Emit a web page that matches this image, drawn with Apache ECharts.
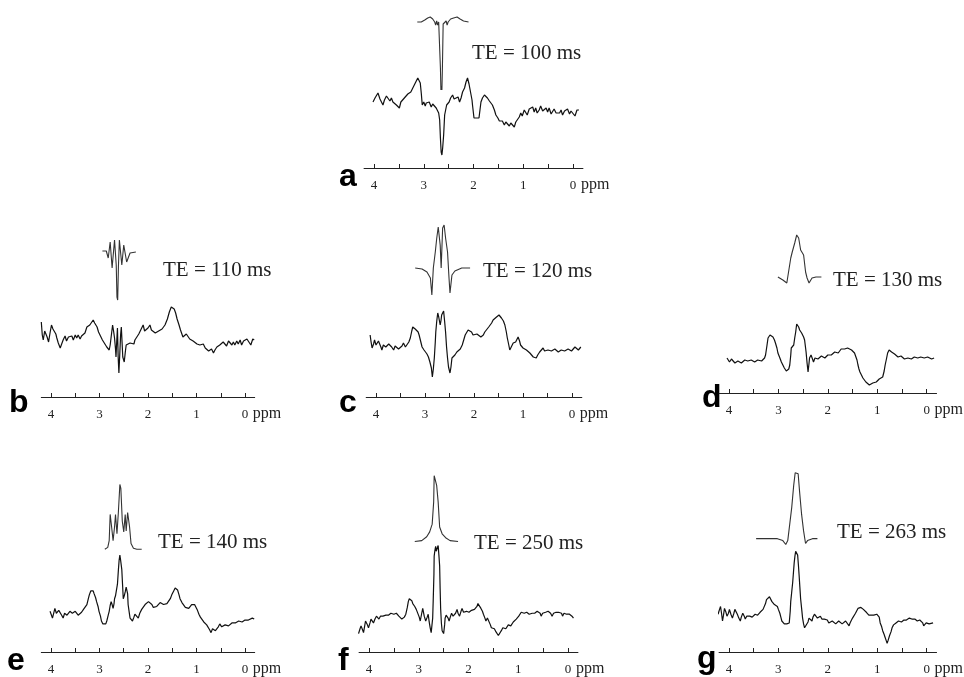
<!DOCTYPE html>
<html><head><meta charset="utf-8">
<script src="https://cdn.jsdelivr.net/npm/echarts@6/dist/echarts.min.js"></script>
<style>html,body{margin:0;padding:0;background:#fff}#c{width:964px;height:677px}</style>
</head><body><div id="c"></div>
<script>
// ---- data ----
const ppmTicks = [0, 0.5, 1, 1.5, 2, 2.5, 3, 3.5, 4];
const ppmLabels = [0, 1, 2, 3, 4];
const panelLetters = ['a', 'b', 'c', 'd', 'e', 'f', 'g'];
const teLabels = ['TE = 100 ms', 'TE = 110 ms', 'TE = 120 ms', 'TE = 130 ms', 'TE = 140 ms', 'TE = 250 ms', 'TE = 263 ms'];

const measuredA = [[4.02,66],[3.98,70],[3.95,68],[3.92,75],[3.88,69],[3.85,66],[3.82,63],[3.79,68],[3.75,72],[3.72,73],[3.68,67],[3.65,70],[3.62,66],[3.58,68],[3.55,63],[3.52,65],[3.49,60],[3.46,66],[3.42,64],[3.39,70],[3.35,68],[3.32,74],[3.29,73],[3.26,76],[3.23,79],[3.19,83],[3.16,86],[3.12,90],[3.09,88],[3.07,85],[3.05,75],[3.03,63],[3.0,66],[2.97,62],[2.95,65],[2.92,63],[2.89,66],[2.85,61],[2.82,64],[2.78,65],[2.75,60],[2.72,58],[2.7,55],[2.68,48],[2.665,30],[2.65,16],[2.635,13],[2.62,20],[2.6,33],[2.58,53],[2.56,58],[2.54,63],[2.51,61],[2.49,66],[2.46,70],[2.42,73],[2.39,69],[2.35,68],[2.31,71],[2.28,66],[2.25,70],[2.22,76],[2.18,80],[2.15,86],[2.12,90],[2.09,84],[2.06,83],[2.03,68],[2.02,63],[1.99,50],[1.95,50],[1.89,50],[1.87,58],[1.85,66],[1.82,70],[1.78,73],[1.75,71],[1.72,70],[1.68,67],[1.65,66],[1.62,63],[1.58,58],[1.55,53],[1.51,50],[1.48,47],[1.45,45],[1.42,47],[1.38,43],[1.35,46],[1.32,45],[1.28,42],[1.25,45],[1.22,43],[1.18,41],[1.15,46],[1.12,48],[1.08,51],[1.05,55],[1.02,52],[0.98,58],[0.95,56],[0.92,53],[0.88,59],[0.85,57],[0.81,61],[0.78,56],[0.75,60],[0.72,55],[0.68,58],[0.65,62],[0.61,57],[0.58,59],[0.54,60],[0.51,56],[0.48,60],[0.44,54],[0.41,56],[0.38,59],[0.34,55],[0.31,57],[0.27,55],[0.24,58],[0.21,53],[0.17,57],[0.14,56],[0.11,59],[0.07,54],[0.04,57],[0.0,55],[-0.04,52],[-0.08,58],[-0.12,58]];
const simulatedA = [[3.13,146],[3.05,146],[2.98,148],[2.92,150],[2.87,151],[2.82,149],[2.78,146],[2.76,143],[2.74,147],[2.72,143],[2.70,146],[2.68,144],[2.665,100],[2.655,78],[2.645,82],[2.635,78],[2.625,100],[2.61,144],[2.59,146],[2.57,143],[2.55,147],[2.53,143],[2.51,146],[2.46,149],[2.40,150],[2.33,151],[2.27,149],[2.2,147],[2.1,146]];

const measuredB = [[4.2,75],[4.18,62],[4.16,57],[4.13,66],[4.11,65],[4.08,60],[4.05,55],[4.02,64],[3.99,72],[3.96,68],[3.93,70],[3.9,63],[3.88,59],[3.85,54],[3.81,49],[3.78,53],[3.75,57],[3.71,61],[3.68,56],[3.64,60],[3.61,58],[3.57,61],[3.54,57],[3.5,62],[3.47,59],[3.44,62],[3.4,58],[3.37,61],[3.33,59],[3.3,64],[3.26,70],[3.23,68],[3.2,72],[3.16,74],[3.13,77],[3.1,74],[3.08,75],[3.05,70],[3.02,65],[2.98,61],[2.94,57],[2.9,55],[2.85,50],[2.8,47],[2.78,52],[2.76,60],[2.73,72],[2.71,66],[2.69,59],[2.67,48],[2.66,40],[2.645,55],[2.63,69],[2.615,40],[2.6,24],[2.58,45],[2.565,62],[2.55,70],[2.535,55],[2.52,40],[2.49,35],[2.47,44],[2.45,52],[2.41,50],[2.37,54],[2.33,56],[2.29,53],[2.27,57],[2.23,60],[2.19,63],[2.16,65],[2.13,69],[2.1,72],[2.07,66],[2.03,65],[2.0,69],[1.96,72],[1.93,67],[1.89,65],[1.85,64],[1.82,62],[1.78,66],[1.75,65],[1.71,68],[1.68,70],[1.65,72],[1.6,78],[1.56,85],[1.52,90],[1.49,92],[1.46,88],[1.43,84],[1.4,78],[1.36,72],[1.33,67],[1.31,65],[1.28,60],[1.24,59],[1.21,63],[1.17,64],[1.14,58],[1.1,60],[1.07,56],[1.03,57],[0.99,53],[0.96,55],[0.93,52],[0.89,50],[0.86,53],[0.82,49],[0.79,51],[0.75,46],[0.72,45],[0.69,48],[0.65,44],[0.62,47],[0.58,50],[0.55,48],[0.52,52],[0.48,50],[0.45,55],[0.41,54],[0.38,51],[0.34,56],[0.31,55],[0.27,52],[0.24,55],[0.21,52],[0.17,56],[0.14,53],[0.1,57],[0.07,52],[0.03,56],[0.0,54],[-0.04,58],[-0.08,55],[-0.12,52],[-0.16,58],[-0.19,57]];
const simulatedB = [[2.94,146],[2.86,146],[2.82,139],[2.78,155],[2.74,129],[2.69,157],[2.655,132],[2.64,100],[2.625,97],[2.61,130],[2.59,157],[2.54,132],[2.5,152],[2.44,135],[2.37,144],[2.25,145]];

const measuredC = [[4.12,62],[4.1,55],[4.08,49],[4.05,53],[4.03,57],[4.0,52],[3.98,50],[3.95,56],[3.93,55],[3.9,50],[3.88,47],[3.85,52],[3.82,54],[3.8,50],[3.78,49],[3.74,53],[3.71,54],[3.68,50],[3.64,47],[3.61,51],[3.57,52],[3.54,48],[3.5,47],[3.47,51],[3.44,54],[3.4,50],[3.37,52],[3.33,55],[3.3,59],[3.27,66],[3.25,70],[3.23,72],[3.2,68],[3.17,69],[3.14,65],[3.12,62],[3.09,56],[3.06,50],[3.02,47],[2.99,45],[2.96,43],[2.93,40],[2.9,35],[2.87,29],[2.85,20],[2.83,28],[2.81,39],[2.79,55],[2.78,65],[2.76,76],[2.74,84],[2.72,80],[2.69,72],[2.675,76],[2.66,82],[2.64,84],[2.62,86],[2.6,76],[2.58,65],[2.56,50],[2.54,39],[2.52,30],[2.49,24],[2.47,30],[2.45,39],[2.42,40],[2.39,42],[2.35,45],[2.31,45],[2.28,48],[2.24,52],[2.21,57],[2.18,62],[2.15,64],[2.12,67],[2.09,68],[2.05,65],[2.02,62],[1.98,60],[1.94,63],[1.9,64],[1.86,60],[1.81,62],[1.78,65],[1.74,67],[1.7,70],[1.67,72],[1.64,74],[1.61,77],[1.57,79],[1.54,80],[1.49,82],[1.46,81],[1.44,79],[1.4,76],[1.37,72],[1.34,65],[1.32,59],[1.29,52],[1.27,47],[1.24,50],[1.2,54],[1.17,56],[1.15,55],[1.12,57],[1.1,60],[1.07,56],[1.05,52],[1.02,50],[1.0,49],[0.96,48],[0.93,47],[0.89,45],[0.86,44],[0.82,42],[0.79,40],[0.76,41],[0.73,39],[0.7,42],[0.66,45],[0.62,47],[0.59,49],[0.56,46],[0.52,44],[0.49,47],[0.45,49],[0.42,46],[0.39,45],[0.35,48],[0.32,47],[0.28,45],[0.25,44],[0.22,47],[0.18,49],[0.15,46],[0.12,45],[0.08,48],[0.05,48],[0.01,46],[-0.02,47],[-0.06,50],[-0.09,49],[-0.13,47],[-0.18,50]];
const simulatedC = [[3.2,129],[3.06,128],[2.96,125],[2.89,119],[2.86,102],[2.83,129],[2.79,145],[2.76,159],[2.73,170],[2.69,152],[2.67,129],[2.64,169],[2.61,172],[2.58,159],[2.54,145],[2.51,119],[2.49,104],[2.45,122],[2.39,126],[2.25,129],[2.08,129]];

const measuredD = [[4.04,35],[4.01,33],[3.99,31],[3.95,34],[3.92,33],[3.88,30],[3.85,29],[3.82,32],[3.78,32],[3.75,30],[3.72,31],[3.68,33],[3.65,35],[3.62,32],[3.58,31],[3.55,33],[3.52,34],[3.48,31],[3.45,31],[3.42,33],[3.38,35],[3.34,32],[3.31,33],[3.28,35],[3.26,38],[3.23,48],[3.21,55],[3.19,57],[3.17,58],[3.14,57],[3.11,56],[3.08,53],[3.06,50],[3.03,45],[3.01,40],[2.97,35],[2.94,31],[2.91,28],[2.88,25],[2.84,22],[2.81,20],[2.79,24],[2.77,28],[2.75,38],[2.74,45],[2.71,47],[2.69,48],[2.67,55],[2.65,61],[2.63,69],[2.61,67],[2.59,66],[2.57,63],[2.55,61],[2.53,60],[2.51,58],[2.49,56],[2.47,53],[2.45,45],[2.44,41],[2.42,30],[2.4,21],[2.38,30],[2.37,35],[2.34,38],[2.31,34],[2.29,31],[2.26,35],[2.24,36],[2.2,34],[2.17,35],[2.13,37],[2.1,38],[2.06,35],[2.03,36],[2.0,38],[1.97,40],[1.93,38],[1.9,39],[1.86,41],[1.83,41],[1.79,40],[1.76,42],[1.73,44],[1.7,45],[1.66,44],[1.63,43],[1.6,45],[1.56,45],[1.52,43],[1.49,41],[1.46,40],[1.44,38],[1.41,33],[1.39,28],[1.37,24],[1.35,21],[1.32,18],[1.29,15],[1.26,13],[1.23,11],[1.2,10],[1.16,8],[1.13,9],[1.09,10],[1.06,12],[1.02,11],[0.99,13],[0.96,14],[0.92,15],[0.89,16],[0.86,22],[0.84,28],[0.81,35],[0.79,40],[0.76,43],[0.74,44],[0.71,41],[0.69,40],[0.65,39],[0.62,38],[0.58,36],[0.55,35],[0.52,37],[0.48,37],[0.45,34],[0.42,33],[0.38,35],[0.35,36],[0.31,34],[0.28,35],[0.25,36],[0.22,37],[0.18,35],[0.15,33],[0.12,36],[0.08,38],[0.05,35],[0.01,34],[-0.02,36],[-0.05,36],[-0.1,34],[-0.15,35]];
const simulatedD = [[3.01,116],[2.91,113],[2.83,110],[2.79,109],[2.75,135],[2.72,141],[2.67,150],[2.63,158],[2.59,155],[2.55,143],[2.49,138],[2.45,121],[2.42,115],[2.38,110],[2.32,115],[2.24,116],[2.13,116]];

const measuredE = [[4.02,42],[3.99,38],[3.97,35],[3.94,41],[3.92,45],[3.89,40],[3.86,39],[3.84,43],[3.81,44],[3.78,38],[3.75,35],[3.72,40],[3.7,42],[3.67,38],[3.64,37],[3.61,42],[3.59,44],[3.56,40],[3.53,39],[3.5,42],[3.47,42],[3.44,38],[3.4,37],[3.37,41],[3.33,44],[3.3,46],[3.26,49],[3.23,55],[3.21,59],[3.18,63],[3.16,65],[3.13,63],[3.11,60],[3.08,56],[3.06,52],[3.03,47],[3.01,42],[2.98,37],[2.96,32],[2.93,29],[2.9,27],[2.87,29],[2.85,32],[2.82,38],[2.8,42],[2.78,48],[2.76,52],[2.74,49],[2.72,45],[2.7,50],[2.69,55],[2.67,58],[2.65,59],[2.63,70],[2.61,85],[2.595,95],[2.58,100],[2.565,95],[2.54,85],[2.525,70],[2.51,55],[2.49,58],[2.47,62],[2.45,67],[2.44,69],[2.42,60],[2.41,49],[2.39,42],[2.37,35],[2.34,33],[2.32,32],[2.29,36],[2.27,39],[2.24,37],[2.2,35],[2.17,40],[2.13,44],[2.1,46],[2.06,49],[2.03,50],[1.99,52],[1.96,50],[1.92,49],[1.89,46],[1.86,44],[1.82,47],[1.79,49],[1.75,51],[1.72,52],[1.68,49],[1.65,47],[1.61,50],[1.58,52],[1.54,55],[1.51,59],[1.47,63],[1.44,66],[1.41,65],[1.39,64],[1.36,59],[1.34,55],[1.3,51],[1.27,49],[1.23,46],[1.2,44],[1.16,45],[1.13,47],[1.1,49],[1.07,50],[1.04,49],[1.01,47],[0.98,43],[0.95,39],[0.92,36],[0.89,34],[0.85,31],[0.82,29],[0.79,28],[0.76,27],[0.73,23],[0.7,20],[0.67,24],[0.65,25],[0.61,22],[0.58,22],[0.55,26],[0.52,29],[0.48,26],[0.45,25],[0.41,28],[0.38,30],[0.34,27],[0.31,27],[0.27,30],[0.24,32],[0.2,30],[0.17,29],[0.13,32],[0.1,34],[0.06,31],[0.03,30],[0.0,33],[-0.03,35],[-0.07,33],[-0.1,32],[-0.15,35],[-0.19,34]];
const simulatedE = [[2.89,106],[2.83,108],[2.8,115],[2.78,142],[2.75,129],[2.72,115],[2.69,129],[2.67,142],[2.64,122],[2.61,145],[2.58,173],[2.56,169],[2.53,135],[2.5,124],[2.47,142],[2.45,125],[2.42,144],[2.38,129],[2.35,112],[2.3,107],[2.23,106],[2.13,106]];

const measuredF = [[4.21,19],[4.18,24],[4.16,27],[4.13,23],[4.11,20],[4.09,26],[4.07,32],[4.04,29],[4.01,25],[3.98,30],[3.96,34],[3.93,32],[3.91,30],[3.88,34],[3.85,37],[3.82,35],[3.8,34],[3.77,37],[3.75,39],[3.72,37],[3.69,35],[3.66,38],[3.64,40],[3.61,38],[3.59,37],[3.56,40],[3.53,42],[3.5,39],[3.48,37],[3.45,40],[3.42,39],[3.4,37],[3.37,35],[3.34,34],[3.32,32],[3.29,36],[3.26,39],[3.23,46],[3.21,52],[3.19,55],[3.17,57],[3.14,53],[3.12,50],[3.1,48],[3.08,47],[3.05,44],[3.02,42],[2.99,36],[2.97,32],[2.94,40],[2.92,45],[2.89,37],[2.86,32],[2.83,36],[2.81,39],[2.79,31],[2.77,25],[2.75,20],[2.74,19],[2.72,35],[2.71,52],[2.695,80],[2.69,99],[2.675,105],[2.66,109],[2.65,104],[2.64,102],[2.625,106],[2.61,110],[2.595,100],[2.58,89],[2.57,65],[2.56,45],[2.545,30],[2.53,22],[2.51,20],[2.5,19],[2.48,28],[2.47,35],[2.45,38],[2.43,39],[2.41,35],[2.39,32],[2.36,37],[2.34,40],[2.31,37],[2.29,35],[2.26,40],[2.23,44],[2.21,40],[2.18,37],[2.15,42],[2.13,45],[2.1,41],[2.07,39],[2.04,42],[2.02,44],[1.99,41],[1.97,39],[1.94,43],[1.91,45],[1.88,44],[1.86,42],[1.83,47],[1.81,50],[1.78,48],[1.75,45],[1.72,42],[1.7,39],[1.67,35],[1.65,32],[1.62,35],[1.59,34],[1.56,28],[1.54,25],[1.51,26],[1.48,24],[1.45,21],[1.43,19],[1.4,17],[1.38,15],[1.36,19],[1.34,22],[1.31,25],[1.28,27],[1.25,24],[1.23,25],[1.2,28],[1.18,30],[1.15,27],[1.12,29],[1.1,31],[1.07,32],[1.04,34],[1.02,35],[0.99,37],[0.96,39],[0.94,41],[0.91,42],[0.88,40],[0.86,39],[0.83,41],[0.8,42],[0.78,39],[0.75,37],[0.72,40],[0.7,42],[0.67,40],[0.64,39],[0.62,42],[0.59,44],[0.56,40],[0.54,37],[0.51,40],[0.48,42],[0.45,41],[0.43,39],[0.4,42],[0.37,44],[0.35,40],[0.32,37],[0.29,40],[0.27,42],[0.24,41],[0.21,39],[0.19,41],[0.16,43],[0.13,40],[0.11,37],[0.08,40],[0.05,41],[0.03,39],[0.0,37],[-0.03,39],[-0.05,40],[-0.08,37],[-0.11,35]];
const simulatedF = [[3.08,114],[2.94,115],[2.84,119],[2.78,124],[2.73,132],[2.7,155],[2.69,182],[2.66,184],[2.64,172],[2.61,155],[2.58,129],[2.53,122],[2.46,118],[2.37,115],[2.21,114]];

const measuredG = [[4.22,39],[4.19,44],[4.17,47],[4.15,40],[4.13,32],[4.11,38],[4.09,45],[4.06,41],[4.04,37],[4.01,40],[3.99,44],[3.96,39],[3.93,35],[3.9,40],[3.88,44],[3.85,42],[3.83,39],[3.8,35],[3.77,32],[3.75,36],[3.72,40],[3.69,37],[3.67,34],[3.64,37],[3.61,39],[3.58,37],[3.56,35],[3.53,36],[3.5,37],[3.47,39],[3.45,40],[3.42,38],[3.4,39],[3.37,41],[3.34,42],[3.31,44],[3.29,45],[3.26,50],[3.24,54],[3.21,56],[3.18,57],[3.16,55],[3.13,52],[3.1,50],[3.08,49],[3.05,48],[3.02,47],[3.0,44],[2.97,40],[2.95,36],[2.93,32],[2.9,30],[2.88,29],[2.85,30],[2.83,29],[2.8,31],[2.78,30],[2.76,42],[2.75,52],[2.73,62],[2.71,72],[2.695,82],[2.68,92],[2.665,99],[2.65,104],[2.63,102],[2.61,100],[2.595,90],[2.58,79],[2.565,67],[2.55,55],[2.53,45],[2.51,35],[2.49,29],[2.47,25],[2.45,26],[2.43,27],[2.4,31],[2.38,35],[2.35,33],[2.32,32],[2.3,36],[2.27,39],[2.24,37],[2.21,35],[2.18,36],[2.15,37],[2.12,34],[2.1,32],[2.07,34],[2.04,35],[2.01,33],[1.98,30],[1.95,32],[1.91,32],[1.88,31],[1.84,29],[1.81,31],[1.78,32],[1.75,30],[1.71,29],[1.68,31],[1.64,32],[1.61,30],[1.57,27],[1.55,30],[1.52,32],[1.5,35],[1.47,37],[1.44,40],[1.41,42],[1.39,45],[1.36,47],[1.33,46],[1.31,45],[1.28,44],[1.25,42],[1.22,41],[1.2,40],[1.17,38],[1.15,37],[1.12,38],[1.09,39],[1.07,38],[1.04,37],[1.01,39],[0.98,40],[0.96,36],[0.94,30],[0.91,26],[0.89,22],[0.86,18],[0.84,15],[0.82,12],[0.8,9],[0.78,12],[0.75,17],[0.72,21],[0.7,25],[0.67,28],[0.65,30],[0.62,30],[0.6,29],[0.57,32],[0.54,34],[0.51,31],[0.49,30],[0.46,33],[0.44,35],[0.41,33],[0.38,32],[0.35,35],[0.33,37],[0.3,34],[0.27,32],[0.24,34],[0.22,35],[0.19,32],[0.17,30],[0.14,33],[0.11,34],[0.08,30],[0.06,27],[0.03,29],[0.01,30],[-0.02,28],[-0.05,29],[-0.09,31],[-0.13,30]];
const simulatedG = [[3.45,117],[3.18,117],[3.02,117],[2.91,115],[2.85,111],[2.81,115],[2.77,132],[2.73,149],[2.69,172],[2.66,185],[2.63,187],[2.6,184],[2.57,165],[2.53,142],[2.49,125],[2.45,112],[2.41,115],[2.31,117],[2.21,117]];

const measuredAll = [measuredA, measuredB, measuredC, measuredD, measuredE, measuredF, measuredG];
const simulatedAll = [simulatedA, simulatedB, simulatedC, simulatedD, simulatedE, simulatedF, simulatedG];

// ---- layout (pixel positions only) ----
const layout = [
  {x4: 374, s: 49.75, axisY: 168, letter: [339, 193], te: [472, 53]},
  {x4: 51,  s: 48.5,  axisY: 397, letter: [9, 419],   te: [163, 270]},
  {x4: 376, s: 49,    axisY: 397, letter: [339, 419], te: [483, 271]},
  {x4: 729, s: 49.5,  axisY: 393, letter: [702, 414], te: [833, 280]},
  {x4: 51,  s: 48.5,  axisY: 657, letter: [7, 677],   te: [158, 542]},
  {x4: 369, s: 49.75, axisY: 657, letter: [338, 677], te: [474, 543]},
  {x4: 729, s: 49.75, axisY: 657, letter: [697, 675], te: [837, 532]}
];
const X_MIN = -0.2, X_MAX = 4.2, H = 160;
const SERIF = '"Liberation Serif", "DejaVu Serif", serif';

const grids = [], xAxes = [], yAxes = [], series = [], graphics = [];
layout.forEach((L, i) => {
  grids.push({left: L.x4 - (X_MAX - 4) * L.s, width: (X_MAX - X_MIN) * L.s, top: L.axisY - H, height: H, containLabel: false});
  xAxes.push({
    gridIndex: i, type: 'value', inverse: true, min: X_MIN, max: X_MAX,
    axisLine: {show: true, onZero: false, lineStyle: {color: '#222', width: 1}},
    axisTick: {show: true, inside: true, length: 4, customValues: ppmTicks, lineStyle: {color: '#222'}},
    axisLabel: {customValues: ppmLabels, margin: 11, color: '#222', fontSize: 13, fontFamily: SERIF},
    splitLine: {show: false},
    name: 'ppm', nameLocation: 'start', nameGap: -2,
    nameTextStyle: {color: '#222', fontSize: 16, fontFamily: SERIF, align: 'left', verticalAlign: 'top', padding: [9, 0, 0, 0]}
  });
  yAxes.push({gridIndex: i, type: 'value', min: 0, max: H, show: false});
  series.push({
    type: 'line', xAxisIndex: i, yAxisIndex: i, data: measuredAll[i], showSymbol: false, clip: false,
    lineStyle: {color: '#111', width: 1.2}, animation: false, silent: true
  });
  series.push({
    type: 'line', xAxisIndex: i, yAxisIndex: i, data: simulatedAll[i], showSymbol: false, clip: false,
    lineStyle: {color: '#333', width: 1.1}, animation: false, silent: true
  });
  graphics.push({type: 'text', x: L.letter[0], y: L.letter[1],
    style: {text: panelLetters[i], font: 'bold 32px "Liberation Sans", Arial, sans-serif', fill: '#000', align: 'left', verticalAlign: 'bottom'}});
  graphics.push({type: 'text', x: L.te[0], y: L.te[1],
    style: {text: teLabels[i], font: '21px ' + SERIF, fill: '#222', align: 'left', verticalAlign: 'middle'}});
});

const chart = echarts.init(document.getElementById('c'), null, {renderer: 'canvas'});
chart.setOption({
  backgroundColor: '#fff', animation: false,
  grid: grids, xAxis: xAxes, yAxis: yAxes, series: series, graphic: graphics
});
</script></body></html>
